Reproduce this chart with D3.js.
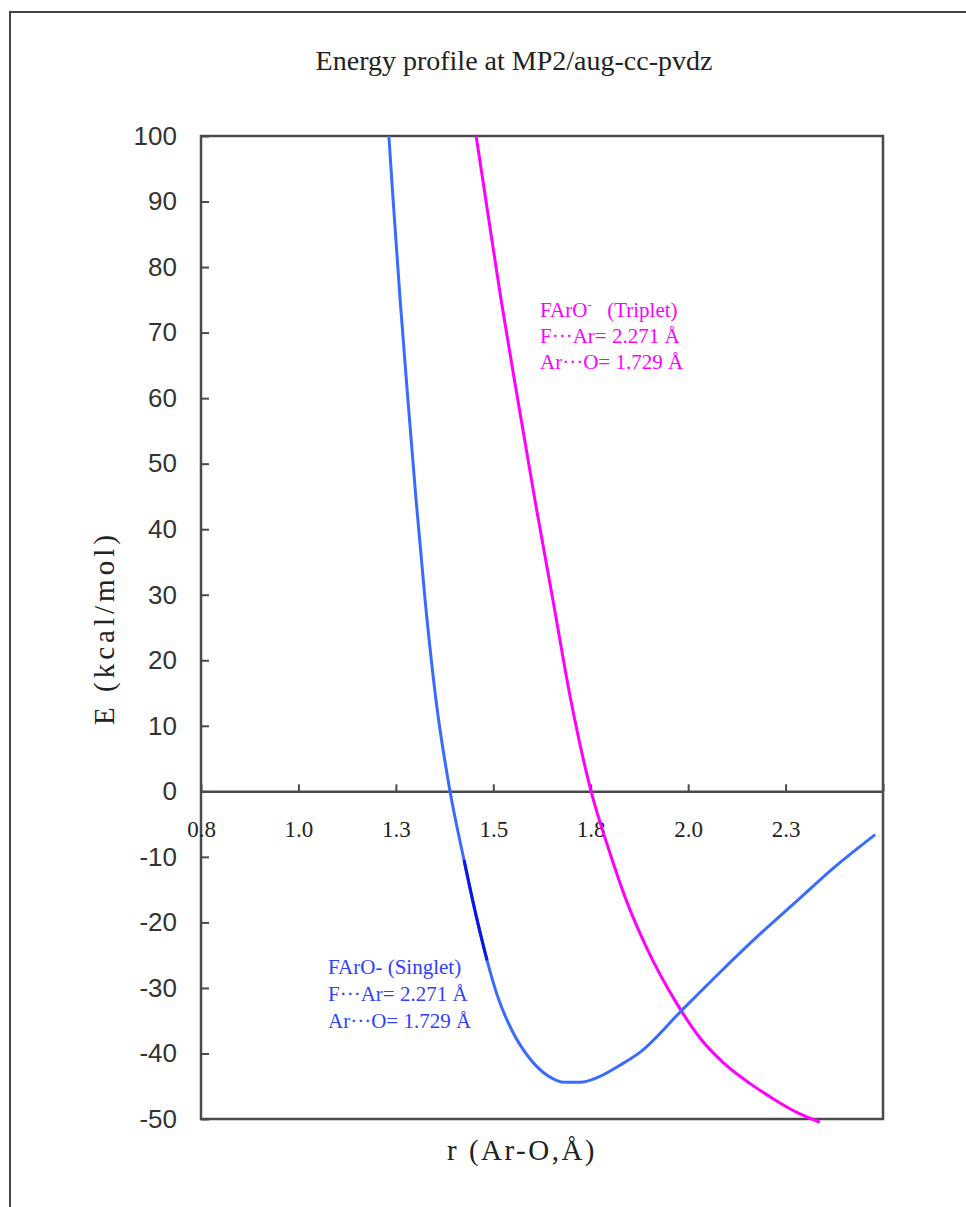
<!DOCTYPE html>
<html lang="en">
<head>
  <meta charset="UTF-8">
  <title>Energy profile</title>
  <style>
    body { margin: 0; background: #fff; }
    svg { display: block; }
  </style>
</head>
<body>
  <script src="https://cdn.jsdelivr.net/npm/d3@7/dist/d3.min.js"></script>
  <script>
    // data (r in Angstrom, E in kcal/mol)
    const singletR = [1.282, 1.293, 1.311, 1.331, 1.352, 1.375, 1.403, 1.439, 1.475, 1.503, 1.534,
                      1.560, 1.598, 1.644, 1.690, 1.734, 1.773, 1.816, 1.875, 1.927, 2.034, 2.132,
                      2.234, 2.337, 2.427, 2.530];
    const singletE = [100, 90.2, 75.0, 59.7, 44.4, 29.2, 13.9, 0, -10.5, -18.2, -25.8,
                      -31.1, -36.5, -40.8, -43.4, -44.4, -44.4, -43.7, -41.8, -39.8, -33.4, -27.6,
                      -21.8, -16.3, -11.5, -6.6];
    const tripletR = [1.506, 1.531, 1.570, 1.613, 1.657, 1.703, 1.749, 1.801, 1.847, 1.891, 1.947,
                      2.016, 2.080, 2.140, 2.209, 2.268, 2.329, 2.388];
    const tripletE = [100, 90.2, 75.0, 59.7, 44.4, 29.2, 13.9, 0, -9.0, -16.6, -24.3,
                      -31.9, -37.6, -41.4, -44.6, -46.9, -49.0, -50.5];
    // part of the singlet curve drawn darker in the original
    const singletDark = [1.475, 1.534];

    const xTicks = [0.8, 1.05, 1.3, 1.55, 1.8, 2.05, 2.3, 2.55];
    const xTickLabels = ["0.8", "1.0", "1.3", "1.5", "1.8", "2.0", "2.3", ""];
    const yTicks = [100, 90, 80, 70, 60, 50, 40, 30, 20, 10, 0, -10, -20, -30, -40, -50];

    const title = "Energy profile at MP2/aug-cc-pvdz";
    const xTitle = "r (Ar-O,\u00c5)";
    const yTitle = "E (kcal/mol)";
    const tripletNote = ["F\u00b7\u00b7\u00b7Ar= 2.271 \u00c5", "Ar\u00b7\u00b7\u00b7O= 1.729 \u00c5"];
    const singletNote = ["FArO- (Singlet)", "F\u00b7\u00b7\u00b7Ar= 2.271 \u00c5", "Ar\u00b7\u00b7\u00b7O= 1.729 \u00c5"];

    const width = 966, height = 1207;
    const serif = "'Liberation Serif', 'Times New Roman', serif";
    const sans = "'Liberation Sans', Arial, sans-serif";
    const blue = "#3a6bff", darkBlue = "#0a16e8", magenta = "#ff00ff", textBlue = "#3040ff";

    const svg = d3.select("body").append("svg")
      .attr("width", width)
      .attr("height", height);

    // outer chart frame (runs off the right and bottom edges)
    svg.append("rect")
      .attr("x", 10).attr("y", 12)
      .attr("width", 1000).attr("height", 1300)
      .attr("fill", "#fff")
      .attr("stroke", "#444").attr("stroke-width", 2);

    const x = d3.scaleLinear().domain([0.8, 2.55]).range([201, 883]);
    const y = d3.scaleLinear().domain([-50, 100]).range([1119, 136]);

    // plot area box
    svg.append("rect")
      .attr("x", x(0.8)).attr("y", y(100))
      .attr("width", x(2.55) - x(0.8)).attr("height", y(-50) - y(100))
      .attr("fill", "none")
      .attr("stroke", "#4a4a4a").attr("stroke-width", 2.5);

    // y axis, ticks pointing inward
    const yAxis = svg.append("g")
      .attr("transform", `translate(${x(0.8)},0)`)
      .call(d3.axisLeft(y).tickValues(yTicks)
        .tickFormat(d => String(d))
        .tickSizeInner(-8).tickSizeOuter(0).tickPadding(24));
    yAxis.select(".domain").remove();
    yAxis.selectAll("line").attr("stroke", "#4a4a4a").attr("stroke-width", 2);
    yAxis.selectAll("text")
      .attr("font-family", sans).attr("font-size", 26).attr("fill", "#333");

    // x axis crossing at E = 0, ticks pointing up
    const xAxis = svg.append("g")
      .attr("transform", `translate(0,${y(0)})`)
      .call(d3.axisBottom(x).tickValues(xTicks)
        .tickFormat((d, i) => xTickLabels[i])
        .tickSizeInner(-7).tickSizeOuter(0).tickPadding(29));
    xAxis.select(".domain").attr("stroke", "#4a4a4a").attr("stroke-width", 2.5);
    xAxis.selectAll("line").attr("stroke", "#4a4a4a").attr("stroke-width", 2);
    xAxis.selectAll("text")
      .attr("font-family", serif).attr("font-size", 23).attr("fill", "#222");

    const line = d3.line()
      .x(d => x(d[0]))
      .y(d => y(d[1]))
      .curve(d3.curveMonotoneX);

    const singlet = d3.zip(singletR, singletE);
    const triplet = d3.zip(tripletR, tripletE);

    svg.append("path")
      .datum(triplet)
      .attr("d", line)
      .attr("fill", "none")
      .attr("stroke", magenta).attr("stroke-width", 3);

    svg.append("path")
      .datum(singlet)
      .attr("d", line)
      .attr("fill", "none")
      .attr("stroke", blue).attr("stroke-width", 3);

    svg.append("path")
      .datum(singlet.filter(d => d[0] >= singletDark[0] && d[0] <= singletDark[1]))
      .attr("d", line)
      .attr("fill", "none")
      .attr("stroke", darkBlue).attr("stroke-width", 3);

    // titles
    svg.append("text")
      .attr("x", 514).attr("y", 70)
      .attr("text-anchor", "middle")
      .attr("font-family", serif).attr("font-size", 28).attr("fill", "#222")
      .text(title);

    svg.append("text")
      .attr("x", 522).attr("y", 1160)
      .attr("text-anchor", "middle")
      .attr("font-family", serif).attr("font-size", 29).attr("letter-spacing", 2.5)
      .attr("fill", "#222")
      .text(xTitle);

    svg.append("text")
      .attr("transform", "translate(114,628) rotate(-90)")
      .attr("text-anchor", "middle")
      .attr("font-family", serif).attr("font-size", 29).attr("letter-spacing", 4)
      .attr("fill", "#222")
      .text(yTitle);

    // triplet annotation
    const tn = svg.append("g")
      .attr("font-family", serif).attr("font-size", 21).attr("fill", magenta);
    const t0 = tn.append("text").attr("x", 540).attr("y", 317);
    t0.append("tspan").text("FArO");
    t0.append("tspan").attr("dy", -8).attr("font-size", 12).text("-");
    t0.append("tspan").attr("dy", 8).text("\u00a0\u00a0 (Triplet)");
    tn.selectAll("text.note")
      .data(tripletNote)
      .enter().append("text")
      .attr("class", "note")
      .attr("x", 540)
      .attr("y", (d, i) => 343 + i * 26)
      .text(d => d);

    // singlet annotation
    svg.append("g")
      .attr("font-family", serif).attr("font-size", 21).attr("fill", textBlue)
      .selectAll("text")
      .data(singletNote)
      .enter().append("text")
      .attr("x", 328)
      .attr("y", (d, i) => 974 + i * 27)
      .text(d => d);
  </script>
</body>
</html>
